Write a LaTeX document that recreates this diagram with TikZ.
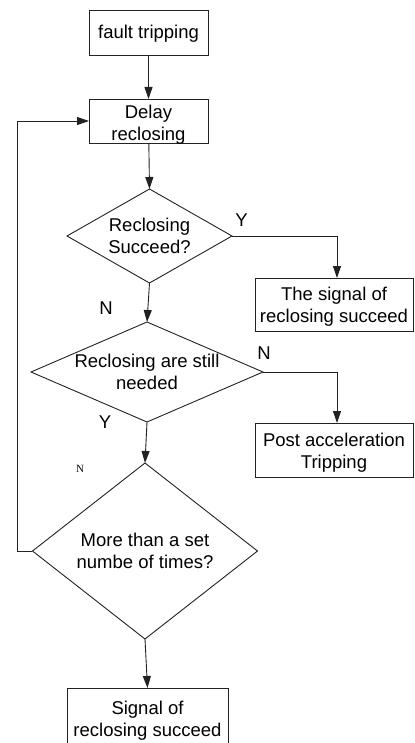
\documentclass[tikz,border=0pt]{standalone}
\usepackage{fontspec}
\setmainfont{Liberation Sans}
\newfontfamily\smallserif{Liberation Serif}
\usetikzlibrary{shapes.geometric,arrows.meta}
\definecolor{linegray}{HTML}{222222}
\begin{document}
\begin{tikzpicture}[x=1bp,y=-1bp,
  every node/.style={font=\fontsize{18.5bp}{22bp}\selectfont, inner sep=0pt, outer sep=0pt},
  stepbox/.style={draw=linegray, line width=0.9bp, rectangle},
  decision/.style={draw=linegray, line width=0.9bp, diamond},
  txt/.style={align=center},
  flow/.style={draw=linegray, line width=0.9bp, -{Triangle[length=12bp,width=8bp]}},
]
\useasboundingbox (0,0) rectangle (414,743);
\clip (0,0) rectangle (414,743);

% process boxes and their captions
\node[stepbox, minimum width=119bp, minimum height=45bp] (b1) at (148.5,32.5) {};
\node[txt] (b1t) at ([yshift=-1bp]b1.center) {fault tripping};
\node[stepbox, minimum width=119bp, minimum height=44bp] (b2) at (148.5,121) {};
\node[txt] (b2t) at ([yshift=-4bp]b2.center) {Delay\\reclosing};
\node[stepbox, minimum width=158bp, minimum height=53bp] (b3) at (334,304.5) {};
\node[txt] (b3t) at ([yshift=-2bp]b3.center) {The signal of\\reclosing succeed};
\node[stepbox, minimum width=158bp, minimum height=54bp] (b4) at (334,450) {};
\node[txt] (b4t) at ([yshift=-3bp]b4.center) {Post acceleration\\Tripping};
\node[stepbox, minimum width=161bp, minimum height=61bp] (b5) at (147.5,718.5) {};
\node[txt] (b5t) at ([yshift=-2bp]b5.center) {Signal of\\reclosing succeed};

% decisions
\node[decision, minimum width=165bp, minimum height=94bp] (d1) at (149.5,236) {};
\node[txt] (d1t) at (d1.center) {Reclosing\\Succeed?};
\node[decision, minimum width=232bp, minimum height=100bp] (d2) at (147,372) {};
\node[txt] (d2t) at (d2.center) {Reclosing are still\\needed};
\node[decision, minimum width=225bp, minimum height=176bp] (d3) at (145,551) {};
\node[txt] (d3t) at (d3.center) {More than a set\\numbe of times?};

% branch labels
\node (y1) at (241.5,220) {Y};
\node (n1) at (106,308.5) {N};
\node (n2) at (264,353.5) {N};
\node (y2) at (105,422.5) {Y};
\node[font=\smallserif\fontsize{11bp}{13bp}\selectfont] (n3) at (80,469) {N};

% connectors
\draw[flow] (b1) -- (b2);
\draw[flow] (b2) -- (d1.north);
\draw[flow] (d1.east) -| ([xshift=3bp]b3.north);
\draw[flow] (d1.south) -- (d2.north);
\draw[flow] (d2.east) -| ([xshift=3bp]b4.north);
\draw[flow] (d2.south) -- (d3.north);
\draw[flow] (d3.south) -- (b5.north);
\coordinate (lp) at (17,551);
\draw[flow] (d3.west) -- (lp) |- (b2.west);
\end{tikzpicture}
\end{document}
